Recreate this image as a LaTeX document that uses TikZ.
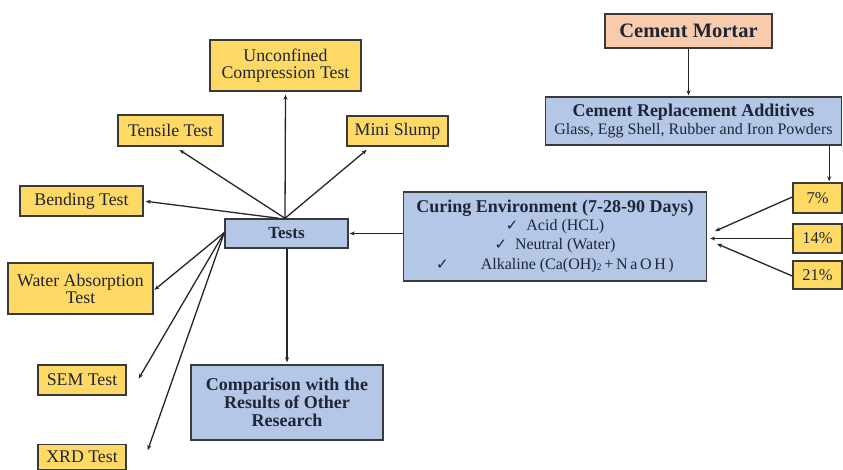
\documentclass[tikz,border=0pt]{standalone}
\usepackage{fontspec}
\setmainfont{Liberation Serif}
\newfontfamily\symfont{DejaVu Sans}
\usetikzlibrary{arrows.meta,calc}
\definecolor{boxyellow}{HTML}{FFD966}
\definecolor{boxblue}{HTML}{B4C7E7}
\definecolor{boxpeach}{HTML}{F8CBAD}
\definecolor{edge}{HTML}{3A3A3A}
\definecolor{txt}{HTML}{1F2535}
\newcommand{\chk}{{\symfont\fontsize{15}{16}\selectfont ✓}}
\tikzset{
  base/.style={draw=edge, line width=1.4pt, text=txt, align=center, inner sep=1pt},
  ybox/.style={base, fill=boxyellow, font=\fontsize{17.8}{20}\selectfont},
  pctbox/.style={base, fill=boxyellow, font=\fontsize{16.5}{19}\selectfont},
  bbox/.style={base, fill=boxblue, font=\bfseries\fontsize{18}{21}\selectfont},
  pbox/.style={base, fill=boxpeach, font=\bfseries\fontsize{20.5}{23}\selectfont, line width=1.8pt},
  conn/.style={line width=1.3pt, draw=black!85, -{Stealth[length=5pt,width=4pt]}},
}
\begin{document}
\begin{tikzpicture}[x=1pt,y=-1pt]
\useasboundingbox (0,0) rectangle (843,470);
\fill[white] (0,0) rectangle (843,470);

\node[pbox, minimum width=167pt, minimum height=34pt] (mortar) at (688.5,31) {Cement Mortar};
\node[bbox, minimum width=296pt, minimum height=48pt] (additives) at (693.5,121)
  {Cement Replacement Additives\\[-3pt]{\mdseries\fontsize{16}{18}\selectfont Glass, Egg Shell, Rubber and Iron Powders}};
\node[pctbox, minimum width=49pt, minimum height=30pt] (p7) at (817.5,198) {7\%};
\node[pctbox, minimum width=49pt, minimum height=29pt] (p14) at (817.5,238.5) {14\%};
\node[pctbox, minimum width=49pt, minimum height=28pt] (p21) at (817.5,275) {21\%};

\node[bbox, minimum width=303pt, minimum height=89pt] (curing) at (555,236.5)
  {Curing Environment (7-28-90 Days)\\[-3pt]
   {\mdseries\fontsize{16}{18}\selectfont \chk\ \ Acid (HCL)}\\[-2pt]
   {\mdseries\fontsize{16}{18}\selectfont \chk\ \ Neutral (Water)}\\[-1pt]
   {\mdseries\fontsize{16}{18}\selectfont \chk\qquad Alkaline (Ca(OH)\raisebox{-1pt}{\fontsize{10}{11}\selectfont 2}\,+\,N\,a\,O\,H\,)}};

\node[bbox, minimum width=123pt, minimum height=29pt, font=\bfseries\fontsize{17}{20}\selectfont] (tests) at (286.5,233.5) {Tests};
\node[ybox, minimum width=151pt, minimum height=51pt] (ucs) at (285.5,65.5) {Unconfined\\[-3pt]Compression Test};
\node[ybox, minimum width=105pt, minimum height=31pt] (tensile) at (170.5,130.5) {Tensile Test};
\node[ybox, minimum width=101pt, minimum height=30pt] (slump) at (397.5,131) {Mini Slump};
\node[ybox, minimum width=123pt, minimum height=30pt] (bending) at (81.5,201) {Bending Test};
\node[ybox, minimum width=145pt, minimum height=51pt] (water) at (80.5,288.5) {Water Absorption\\[-3pt]Test};
\node[ybox, minimum width=88pt, minimum height=30pt] (sem) at (82,380) {SEM Test};
\node[ybox, minimum width=88pt, minimum height=25pt, inner sep=0pt] (xrd) at (82,457) {XRD Test};
\node[bbox, minimum width=192pt, minimum height=75pt] (comp) at (287,402.5)
  {Comparison with the\\[-3pt]Results of Other\\[-3pt]Research};

% connectors
\draw[conn, shorten >=1pt] (mortar.south) -- (mortar.south |- additives.north);
\coordinate (addout) at ([xshift=-13pt]additives.south east);
\draw[conn, shorten >=1pt] (addout) -- (addout |- p7.north);
\coordinate (cin) at ([xshift=2pt]curing.east);
\draw[conn, shorten >=1pt] ([yshift=1pt]p7.west) -- ([xshift=5pt,yshift=5pt]cin);
\draw[conn, shorten >=1pt] (p14.west) -- (cin |- p14.west);
\draw[conn, shorten >=1pt] ([yshift=-1pt]p21.west) -- ([xshift=7pt,yshift=-7pt]cin);
\draw[conn, shorten >=1pt] (curing.west |- tests.east) -- (tests.east);

\coordinate (ttop) at ([xshift=-1.5pt]tests.north);
\coordinate (tleft) at ([yshift=1pt]tests.west);
\draw[conn, shorten >=3pt] (ttop) -- (ucs.south);
\draw[conn, shorten >=6pt] (ttop) -- ([xshift=4pt]tensile.south);
\draw[conn, shorten >=5pt] (ttop) -- ([xshift=-27pt]slump.south);
\draw[conn, shorten >=2pt] ([xshift=-6pt]ttop) -- (bending.east);
\draw[conn, shorten >=1pt] (tleft) -- ([yshift=-2pt]water.east);
\draw[conn, shorten >=4pt] (tleft) -- ([xshift=10pt,yshift=-2pt]sem.east);
\draw[conn, shorten >=3pt] (tleft) -- ([xshift=20pt,yshift=4pt]xrd.east);
\draw[conn, shorten >=2pt] ([xshift=0.5pt]tests.south) -- ([xshift=0.5pt]tests.south |- comp.north);
\end{tikzpicture}
\end{document}
